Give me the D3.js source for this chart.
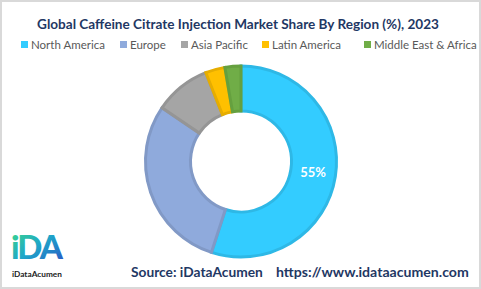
<!DOCTYPE html>
<html>
<head>
<meta charset="utf-8">
<script src="https://cdn.jsdelivr.net/npm/d3@7"></script>
<style>
    html, body { margin: 0; padding: 0; background: #fff; }
    svg { display: block; font-family: Lato, "Open Sans", "DejaVu Sans", sans-serif; }
</style>
</head>
<body>
<div id="chart"></div>
<script>
(function (d3) {
    'use strict';

    // data
    var regions = ['North America', 'Europe', 'Asia Pacific', 'Latin America', 'Middle East & Africa'];
    var shares = [55, 29.5, 9.5, 3.3, 2.7];
    var fills = ['#33CCFF', '#8FAADC', '#A5A5A5', '#FFC000', '#70AD47'];
    var strokes = ['#2EB8E6', '#8199C6', '#959595', '#E6AD00', '#65A03F'];
    var title = 'Global Caffeine Citrate Injection Market Share By Region (%), 2023';

    var width = 481,
        height = 289,
        cx = 241,
        cy = 161.5,
        outer = 97,
        inner = 49;

    /**
     * scale the font so the text is as wide as w, no glyph squeezing
     */
    function fitWidth(sel, w) {
        var len = sel.node().getComputedTextLength();
        if (len > 0) {
            sel.attr('font-size', parseFloat(sel.attr('font-size')) * w / len);
        }
        return sel;
    }

    var svg = d3.select('#chart')
        .append('svg')
        .attr('width', width)
        .attr('height', height);

    var defs = svg.append('defs');
    var grad = defs.append('linearGradient')
        .attr('id', 'logoGrad')
        .attr('x1', '0').attr('y1', '0')
        .attr('x2', '1').attr('y2', '1');
    grad.append('stop').attr('offset', '0%').attr('stop-color', '#3DDC84');
    grad.append('stop').attr('offset', '50%').attr('stop-color', '#1FA6C9');
    grad.append('stop').attr('offset', '100%').attr('stop-color', '#2A4FC4');

    // frame
    svg.append('rect')
        .attr('x', 1).attr('y', 1)
        .attr('width', width - 2).attr('height', height - 2)
        .attr('fill', '#fff')
        .attr('stroke', '#D9D9D9')
        .attr('stroke-width', 2);

    var t = svg.append('text')
        .attr('x', 238)
        .attr('y', 29)
        .attr('text-anchor', 'middle')
        .attr('fill', '#1F3864')
        .attr('font-size', 14)
        .attr('font-weight', 'bold')
        .text(title);
    fitWidth(t, 402);

    // legend
    var legendX = [21, 120, 181, 262, 364];
    var legend = svg.append('g')
        .selectAll('g')
        .data(regions)
        .enter()
        .append('g')
        .attr('transform', function (d, i) { return 'translate(' + legendX[i] + ',49)'; });

    legend.append('rect')
        .attr('x', 0).attr('y', -8)
        .attr('width', 7).attr('height', 7)
        .attr('fill', function (d, i) { return fills[i]; });

    legend.append('text')
        .attr('x', 10)
        .attr('y', 0)
        .attr('fill', '#595959')
        .attr('font-size', 11.5)
        .text(function (d) { return d; });

    // donut
    var pie = d3.pie().sort(null).value(function (d) { return d; });
    var arc = d3.arc().innerRadius(inner + 1.5).outerRadius(outer - 1.5);
    var arcs = pie(shares);

    var g = svg.append('g').attr('transform', 'translate(' + cx + ',' + cy + ')');

    g.selectAll('path')
        .data(arcs)
        .enter()
        .append('path')
        .attr('d', arc)
        .attr('fill', function (d, i) { return fills[i]; })
        .attr('stroke', function (d, i) { return strokes[i]; })
        .attr('stroke-width', 3)
        .attr('stroke-linejoin', 'miter');

    var labelArc = d3.arc().innerRadius(73).outerRadius(73);
    var pos = labelArc.centroid(arcs[0]);
    g.append('text')
        .attr('x', pos[0])
        .attr('y', pos[1])
        .attr('text-anchor', 'middle')
        .attr('dy', '0.35em')
        .attr('fill', '#fff')
        .attr('font-size', 13)
        .attr('font-weight', 'bold')
        .text(shares[0] + '%');

    // footer
    var s1 = svg.append('text')
        .attr('x', 131)
        .attr('y', 277)
        .attr('fill', '#1F3864')
        .attr('font-size', 14)
        .attr('font-weight', 'bold')
        .text('Source: iDataAcumen');
    fitWidth(s1, 132);

    var s2 = svg.append('text')
        .attr('x', 276)
        .attr('y', 277)
        .attr('fill', '#1F3864')
        .attr('font-size', 14)
        .attr('font-weight', 'bold')
        .text('https://www.idataacumen.com');
    fitWidth(s2, 193);

    // logo
    svg.append('text')
        .attr('x', 11)
        .attr('y', 259)
        .attr('fill', 'url(#logoGrad)')
        .attr('font-size', 33)
        .attr('font-weight', 900)
        .attr('letter-spacing', -2)
        .text('iDA');

    var cap = svg.append('text')
        .attr('x', 12)
        .attr('y', 277)
        .attr('fill', '#222')
        .attr('font-size', 6)
        .attr('font-weight', 'bold')
        .text('iDataAcumen');
    fitWidth(cap, 50);

})(d3);
</script>
</body>
</html>
